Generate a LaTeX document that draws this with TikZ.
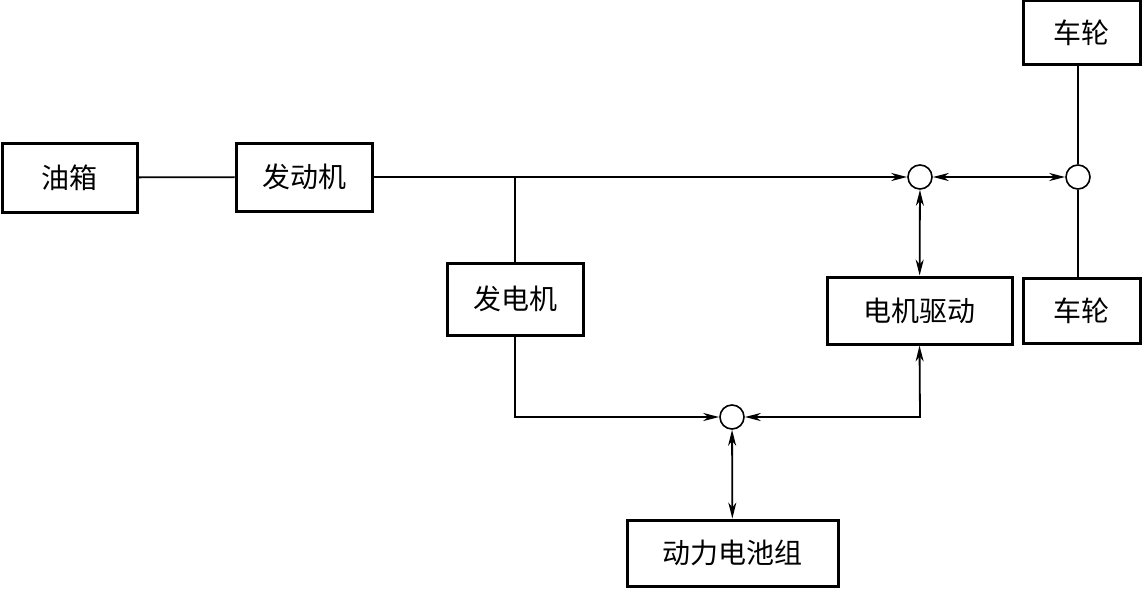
\documentclass[tikz,border=0pt]{standalone}
\usepackage{fontspec}
\newfontfamily\cjk{Noto Sans CJK SC}
\usetikzlibrary{arrows.meta}
\begin{document}
\begin{tikzpicture}[x=1pt,y=-1pt,
  blk/.style={draw,line width=3pt,inner sep=0pt,font=\cjk\fontsize{28}{32}\selectfont},
  junc/.style={draw,circle,line width=1.6pt,minimum size=24pt,inner sep=0pt},
  ln/.style={line width=1.8pt},
  tip/.style={-{Stealth[length=16pt,width=8pt,inset=5pt]}},
  dtip/.style={{Stealth[length=16pt,width=8pt,inset=5pt]}-{Stealth[length=16pt,width=8pt,inset=5pt]}}]
\useasboundingbox (0,0) rectangle (1143,589);
\node[blk,minimum width=135pt,minimum height=69pt] (tank) at (69.5,177.5) {油箱};
\node[blk,minimum width=136pt,minimum height=68pt] (eng) at (304,177) {发动机};
\node[blk,minimum width=136pt,minimum height=72pt] (gen) at (515,299) {发电机};
\node[blk,minimum width=185pt,minimum height=67pt] (mot) at (919.5,310.5) {电机驱动};
\node[blk,minimum width=117pt,minimum height=64pt] (wt) at (1081.5,32.5) {车轮};
\node[blk,minimum width=117pt,minimum height=65pt] (wb) at (1081.5,310.5) {车轮};
\node[blk,minimum width=211pt,minimum height=66pt] (bat) at (732.5,553) {动力电池组};
\node[junc] (c1) at (920,177) {};
\node[junc] (c2) at (1078,177) {};
\node[junc] (c3) at (732,417) {};
\coordinate (br) at (515,177);
\coordinate (gb) at (515,417);
\coordinate (mb) at (920,417);
\draw[ln] (tank) -- (eng);
\draw[ln,tip] (eng) -- (c1);
\draw[ln] (br) -- (gen);
\draw[ln,tip] (gen.south) -- (gb) -- (c3);
\draw[ln,dtip] (mot.south) -- (mb) -- (c3);
\draw[ln,dtip] (c1) -- (mot);
\draw[ln,dtip] (c1) -- (c2);
\draw[ln,dtip] (c3) -- (bat);
\draw[ln] (c2) -- (c2 |- wt.south);
\draw[ln] (c2) -- (c2 |- wb.north);
\end{tikzpicture}
\end{document}
